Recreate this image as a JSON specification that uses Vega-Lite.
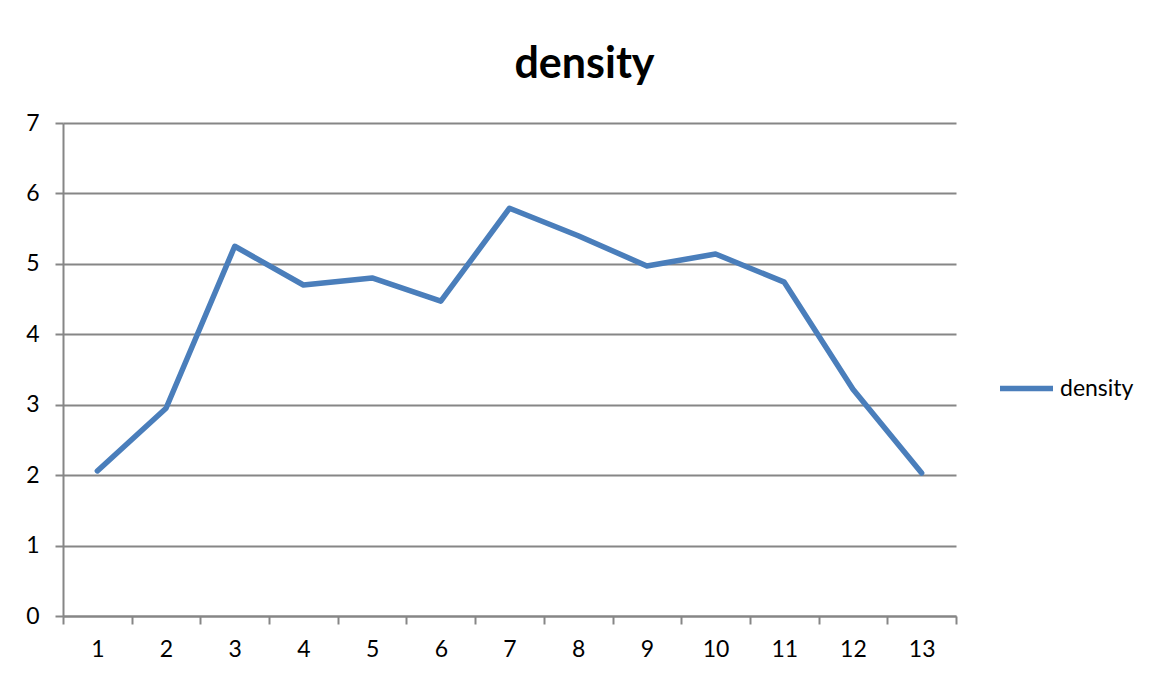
{
  "$schema": "https://vega.github.io/schema/vega-lite/v6.json",
  "autosize": {"type": "none"},
  "width": 893,
  "height": 493,
  "padding": {"left": 63, "top": 123, "right": 198, "bottom": 61},
  "background": "white",
  "title": {
    "text": "density",
    "font": "Lato",
    "fontSize": 43,
    "fontWeight": "bold",
    "color": "black",
    "anchor": "middle",
    "baseline": "alphabetic",
    "offset": -9,
    "dx": 75
  },
  "data": {
    "values": [
      {"category": "1", "density": 2.06},
      {"category": "2", "density": 2.95},
      {"category": "3", "density": 5.25},
      {"category": "4", "density": 4.70},
      {"category": "5", "density": 4.80},
      {"category": "6", "density": 4.47},
      {"category": "7", "density": 5.79},
      {"category": "8", "density": 5.40},
      {"category": "9", "density": 4.97},
      {"category": "10", "density": 5.14},
      {"category": "11", "density": 4.74},
      {"category": "12", "density": 3.22},
      {"category": "13", "density": 2.03}
    ]
  },
  "mark": {"type": "line", "strokeWidth": 5.5, "strokeJoin": "round", "strokeCap": "round"},
  "encoding": {
    "x": {
      "field": "category",
      "type": "ordinal",
      "sort": null,
      "bandPosition": 0.5,
      "scale": {"type": "band", "paddingInner": 0, "paddingOuter": 0},
      "axis": {
        "title": null,
        "labelAngle": 0,
        "tickBand": "extent",
        "domainColor": "#868686",
        "domainWidth": 2,
        "tickColor": "#868686",
        "tickWidth": 2,
        "tickSize": 8,
        "labelFont": "Lato",
        "labelFontSize": 23,
        "labelColor": "black",
        "labelPadding": 14,
        "grid": false
      }
    },
    "y": {
      "field": "density",
      "type": "quantitative",
      "scale": {"domain": [0, 7], "nice": false},
      "axis": {
        "title": null,
        "values": [0, 1, 2, 3, 4, 5, 6, 7],
        "grid": true,
        "gridColor": "#868686",
        "gridWidth": 2,
        "gridOpacity": 1,
        "domainColor": "#868686",
        "domainWidth": 2,
        "tickColor": "#868686",
        "tickWidth": 2,
        "tickSize": 8,
        "labelFont": "Lato",
        "labelFontSize": 23,
        "labelColor": "black",
        "labelPadding": 16
      }
    },
    "color": {
      "datum": "density",
      "scale": {"range": ["#4a7ebb"]},
      "legend": {
        "title": null,
        "orient": "none",
        "legendX": 934,
        "legendY": 236,
        "symbolType": "stroke",
        "symbolSize": 2809,
        "symbolStrokeWidth": 5.5,
        "symbolStrokeColor": "#4a7ebb",
        "labelFont": "Lato",
        "labelFontSize": 23,
        "labelColor": "black",
        "labelOffset": 4
      }
    }
  },
  "config": {
    "view": {"stroke": null}
  }
}
